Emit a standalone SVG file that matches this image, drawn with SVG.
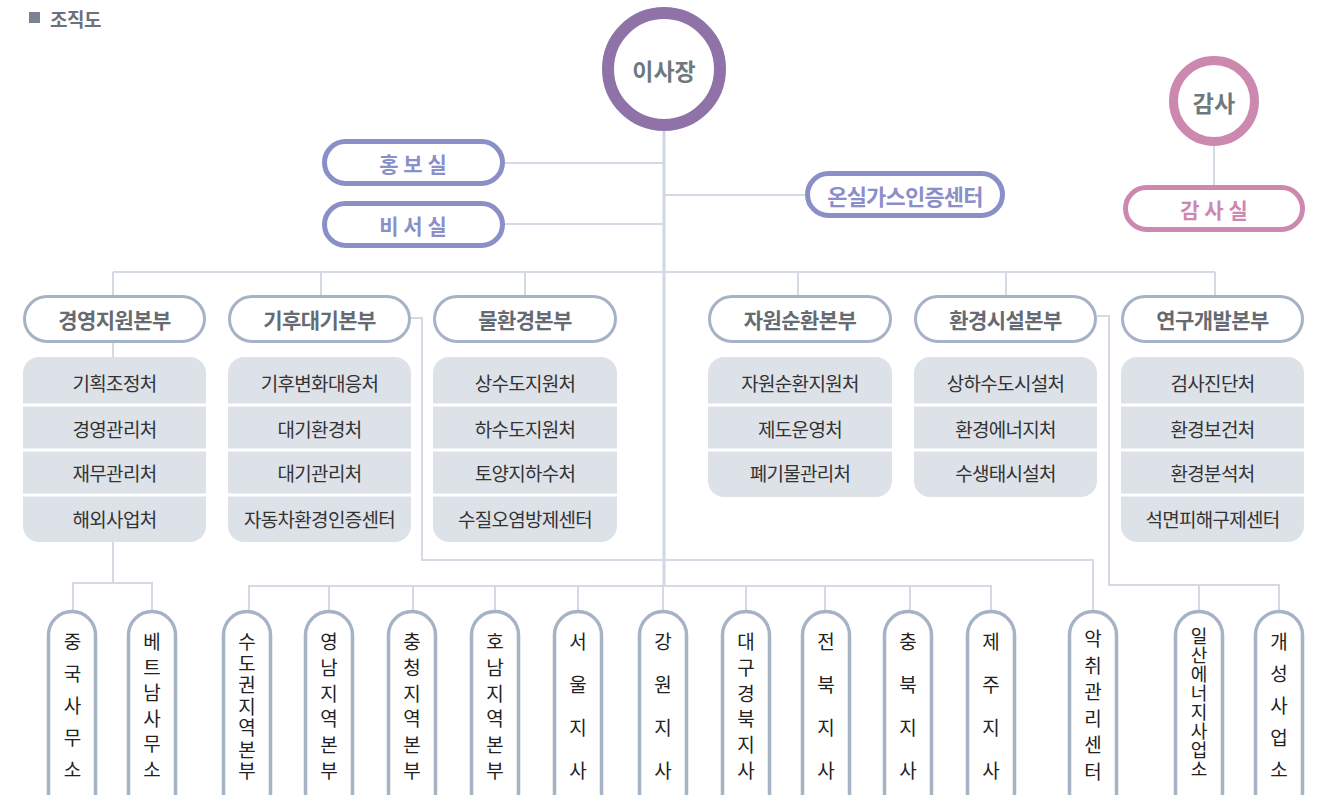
<svg xmlns="http://www.w3.org/2000/svg" width="1326" height="795" viewBox="0 0 1326 795">
<style>
text{font-family:"Noto Sans CJK KR","Noto Sans",sans-serif}
.ln{fill:none;stroke:#d3dae4;stroke-width:2}
.main{fill:none;stroke:#cfd7e1;stroke-width:3}
.purp{fill:#fff;stroke:#8b8fc8;stroke-width:5}
.pink{fill:#fff;stroke:#cd88b0;stroke-width:5}
.pt{fill:#8b8fc8;font-size:21px;font-weight:700;text-anchor:middle;dominant-baseline:central}
.kt{fill:#cd88b0;font-size:21px;font-weight:700;text-anchor:middle;dominant-baseline:central}
.div{fill:#fff;stroke:#a5b3c5;stroke-width:3}
.dt{fill:#666b71;font-size:21px;font-weight:700;text-anchor:middle;dominant-baseline:central;letter-spacing:-0.6px}
.box{fill:#dde1e8}
.sep{stroke:#fff;stroke-width:3}
.st{fill:#333;font-size:19px;text-anchor:middle;dominant-baseline:central;letter-spacing:-0.7px}
.bp{fill:#fff;stroke:#a5b3c5;stroke-width:3.5}
.bt{fill:#222;font-size:19px;text-anchor:middle;dominant-baseline:central}
.ct{fill:#6d787f;font-size:23px;font-weight:700;text-anchor:middle;dominant-baseline:central}
</style>
<rect width="1326" height="795" fill="#fff"/>
<g id="title">
<rect x="29" y="12" width="11" height="11" fill="#7c8293"/>
<text x="50" y="18.5" font-size="19" font-weight="700" fill="#6a7080" dominant-baseline="central" letter-spacing="-0.5">조직도</text>
</g>
<g id="connectors">
<path class="main" d="M664 131V586"/>
<path class="ln" d="M505 163H664M505 224H664M664 195H805M1214 146V185"/>
<path class="ln" d="M113 272H1215M113 272V583M321 272V295M525 272V295M798 272V295M1006 272V295M1215 272V295"/>
<path class="ln" d="M73 610V583H152V610"/>
<path class="ln" d="M411 318H422V560H1093V610"/>
<path class="ln" d="M1097 316H1109V585H1279V610M1199 585V610"/>
<path class="ln" d="M249 610V586H991V610M329 586V610M413 586V610M495 586V610M578 586V610M663 586V610M746 586V610M825 586V610M910 586V610"/>
</g>
<g id="ceo">
<circle cx="664" cy="69" r="56" fill="#fff" stroke="#8e72a8" stroke-width="12"/>
<text class="ct" x="664" y="70">이사장</text>
</g>
<g id="auditor">
<circle cx="1214" cy="101" r="40.5" fill="#fff" stroke="#cd88b0" stroke-width="9"/>
<text class="ct" x="1214" y="102">감사</text>
</g>
<g id="pr"><rect class="purp" x="324.5" y="141.5" width="178" height="42" rx="21"/><text class="pt" x="413" y="163">홍 보 실</text></g>
<g id="secretary"><rect class="purp" x="324.5" y="203.5" width="178" height="42" rx="21"/><text class="pt" x="413" y="225">비 서 실</text></g>
<g id="ghg"><rect class="purp" x="807.5" y="173.5" width="195" height="42" rx="21"/><text class="pt" x="905" y="195" style="font-size:22px;letter-spacing:-0.8px">온실가스인증센터</text></g>
<g id="audit-office"><rect class="pink" x="1125.5" y="187.5" width="177" height="42" rx="21"/><text class="kt" x="1214" y="209">감 사 실</text></g>

<g id="div1">
<rect class="div" x="24.5" y="296.5" width="180" height="45" rx="22.5"/><text class="dt" x="114.5" y="319">경영지원본부</text>
<rect class="box" x="23" y="357" width="183" height="185" rx="16"/>
<path class="sep" d="M23 405H206M23 450H206M23 495H206"/>
<text class="st" x="114.5" y="382">기획조정처</text><text class="st" x="114.5" y="428">경영관리처</text><text class="st" x="114.5" y="472">재무관리처</text><text class="st" x="114.5" y="518">해외사업처</text>
</g>
<g id="div2">
<rect class="div" x="229.5" y="296.5" width="180" height="45" rx="22.5"/><text class="dt" x="319.5" y="319">기후대기본부</text>
<rect class="box" x="228" y="357" width="183" height="185" rx="16"/>
<path class="sep" d="M228 405H411M228 450H411M228 495H411"/>
<text class="st" x="319.5" y="382">기후변화대응처</text><text class="st" x="319.5" y="428">대기환경처</text><text class="st" x="319.5" y="472">대기관리처</text><text class="st" x="319.5" y="518">자동차환경인증센터</text>
</g>
<g id="div3">
<rect class="div" x="434.5" y="296.5" width="181" height="45" rx="22.5"/><text class="dt" x="525" y="319">물환경본부</text>
<rect class="box" x="433" y="357" width="184" height="185" rx="16"/>
<path class="sep" d="M433 405H617M433 450H617M433 495H617"/>
<text class="st" x="525" y="382">상수도지원처</text><text class="st" x="525" y="428">하수도지원처</text><text class="st" x="525" y="472">토양지하수처</text><text class="st" x="525" y="518">수질오염방제센터</text>
</g>
<g id="div4">
<rect class="div" x="709.5" y="296.5" width="181" height="45" rx="22.5"/><text class="dt" x="800" y="319">자원순환본부</text>
<rect class="box" x="708" y="357" width="184" height="140" rx="16"/>
<path class="sep" d="M708 405H892M708 450H892"/>
<text class="st" x="800" y="382">자원순환지원처</text><text class="st" x="800" y="428">제도운영처</text><text class="st" x="800" y="472">폐기물관리처</text>
</g>
<g id="div5">
<rect class="div" x="915.5" y="296.5" width="180" height="45" rx="22.5"/><text class="dt" x="1005.5" y="319">환경시설본부</text>
<rect class="box" x="914" y="357" width="183" height="140" rx="16"/>
<path class="sep" d="M914 405H1097M914 450H1097"/>
<text class="st" x="1005.5" y="382">상하수도시설처</text><text class="st" x="1005.5" y="428">환경에너지처</text><text class="st" x="1005.5" y="472">수생태시설처</text>
</g>
<g id="div6">
<rect class="div" x="1122.5" y="296.5" width="180" height="45" rx="22.5"/><text class="dt" x="1212.5" y="319">연구개발본부</text>
<rect class="box" x="1121" y="357" width="183" height="185" rx="16"/>
<path class="sep" d="M1121 405H1304M1121 450H1304M1121 495H1304"/>
<text class="st" x="1212.5" y="382">검사진단처</text><text class="st" x="1212.5" y="428">환경보건처</text><text class="st" x="1212.5" y="472">환경분석처</text><text class="st" x="1212.5" y="518">석면피해구제센터</text>
</g>

<g id="b-china"><rect class="bp" x="48.5" y="611.5" width="47" height="220" rx="23.5"/>
<text class="bt"><tspan x="72.5" y="640">중</tspan><tspan x="72.5" y="672">국</tspan><tspan x="72.5" y="704">사</tspan><tspan x="72.5" y="736">무</tspan><tspan x="72.5" y="768">소</tspan></text></g>
<g id="b-vietnam"><rect class="bp" x="128.5" y="611.5" width="47" height="220" rx="23.5"/>
<text class="bt"><tspan x="152" y="640">베</tspan><tspan x="152" y="665.6">트</tspan><tspan x="152" y="691.2">남</tspan><tspan x="152" y="716.8">사</tspan><tspan x="152" y="742.4">무</tspan><tspan x="152" y="768">소</tspan></text></g>
<g id="b-sudo"><rect class="bp" x="223.5" y="611.5" width="47" height="220" rx="23.5"/>
<text class="bt"><tspan x="247" y="640">수</tspan><tspan x="247" y="661.5">도</tspan><tspan x="247" y="683">권</tspan><tspan x="247" y="704.5">지</tspan><tspan x="247" y="726">역</tspan><tspan x="247" y="747.5">본</tspan><tspan x="247" y="769">부</tspan></text></g>
<g id="b-yeongnam"><rect class="bp" x="305.5" y="611.5" width="47" height="220" rx="23.5"/>
<text class="bt"><tspan x="329" y="640">영</tspan><tspan x="329" y="665.8">남</tspan><tspan x="329" y="691.6">지</tspan><tspan x="329" y="717.4">역</tspan><tspan x="329" y="743.2">본</tspan><tspan x="329" y="769">부</tspan></text></g>
<g id="b-chungcheong"><rect class="bp" x="388.5" y="611.5" width="47" height="220" rx="23.5"/>
<text class="bt"><tspan x="412" y="640">충</tspan><tspan x="412" y="665.8">청</tspan><tspan x="412" y="691.6">지</tspan><tspan x="412" y="717.4">역</tspan><tspan x="412" y="743.2">본</tspan><tspan x="412" y="769">부</tspan></text></g>
<g id="b-honam"><rect class="bp" x="471.5" y="611.5" width="47" height="220" rx="23.5"/>
<text class="bt"><tspan x="495" y="640">호</tspan><tspan x="495" y="665.8">남</tspan><tspan x="495" y="691.6">지</tspan><tspan x="495" y="717.4">역</tspan><tspan x="495" y="743.2">본</tspan><tspan x="495" y="769">부</tspan></text></g>
<g id="b-seoul"><rect class="bp" x="554.5" y="611.5" width="47" height="220" rx="23.5"/>
<text class="bt"><tspan x="578" y="640">서</tspan><tspan x="578" y="683">울</tspan><tspan x="578" y="726">지</tspan><tspan x="578" y="769">사</tspan></text></g>
<g id="b-gangwon"><rect class="bp" x="639.5" y="611.5" width="47" height="220" rx="23.5"/>
<text class="bt"><tspan x="663" y="640">강</tspan><tspan x="663" y="683">원</tspan><tspan x="663" y="726">지</tspan><tspan x="663" y="769">사</tspan></text></g>
<g id="b-daegu"><rect class="bp" x="722.5" y="611.5" width="47" height="220" rx="23.5"/>
<text class="bt"><tspan x="746" y="640">대</tspan><tspan x="746" y="665.8">구</tspan><tspan x="746" y="691.6">경</tspan><tspan x="746" y="717.4">북</tspan><tspan x="746" y="743.2">지</tspan><tspan x="746" y="769">사</tspan></text></g>
<g id="b-jeonbuk"><rect class="bp" x="802.5" y="611.5" width="47" height="220" rx="23.5"/>
<text class="bt"><tspan x="826" y="640">전</tspan><tspan x="826" y="683">북</tspan><tspan x="826" y="726">지</tspan><tspan x="826" y="769">사</tspan></text></g>
<g id="b-chungbuk"><rect class="bp" x="884.5" y="611.5" width="47" height="220" rx="23.5"/>
<text class="bt"><tspan x="908" y="640">충</tspan><tspan x="908" y="683">북</tspan><tspan x="908" y="726">지</tspan><tspan x="908" y="769">사</tspan></text></g>
<g id="b-jeju"><rect class="bp" x="967.5" y="611.5" width="47" height="220" rx="23.5"/>
<text class="bt"><tspan x="991" y="640">제</tspan><tspan x="991" y="683">주</tspan><tspan x="991" y="726">지</tspan><tspan x="991" y="769">사</tspan></text></g>
<g id="b-odor"><rect class="bp" x="1069.5" y="611.5" width="47" height="220" rx="23.5"/>
<text class="bt"><tspan x="1093" y="637">악</tspan><tspan x="1093" y="663.6">취</tspan><tspan x="1093" y="690.2">관</tspan><tspan x="1093" y="716.8">리</tspan><tspan x="1093" y="743.4">센</tspan><tspan x="1093" y="770">터</tspan></text></g>
<g id="b-ilsan"><rect class="bp" x="1175.5" y="611.5" width="47" height="220" rx="23.5"/>
<text class="bt" style="font-size:18px"><tspan x="1199" y="635">일</tspan><tspan x="1199" y="654">산</tspan><tspan x="1199" y="673">에</tspan><tspan x="1199" y="692">너</tspan><tspan x="1199" y="711">지</tspan><tspan x="1199" y="730">사</tspan><tspan x="1199" y="749">업</tspan><tspan x="1199" y="768">소</tspan></text></g>
<g id="b-gaeseong"><rect class="bp" x="1255.5" y="611.5" width="47" height="220" rx="23.5"/>
<text class="bt"><tspan x="1279" y="640">개</tspan><tspan x="1279" y="672">성</tspan><tspan x="1279" y="704">사</tspan><tspan x="1279" y="736">업</tspan><tspan x="1279" y="768">소</tspan></text></g>
</svg>
